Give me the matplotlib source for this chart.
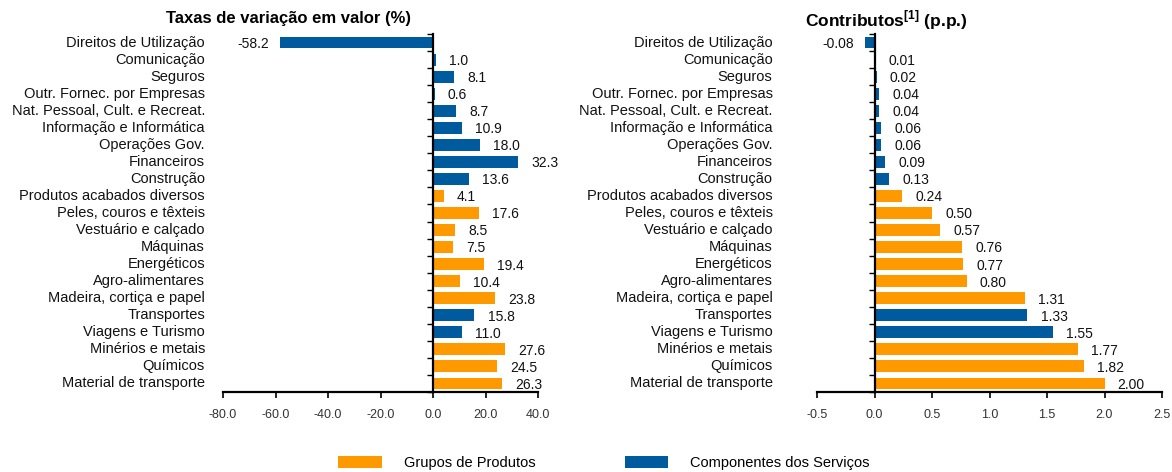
import matplotlib
matplotlib.use("Agg")
import matplotlib.pyplot as plt
import numpy as np
from matplotlib.patches import Patch
from matplotlib.ticker import FormatStrFormatter, FixedLocator, NullFormatter

plt.rcParams['font.family'] = ['Liberation Sans', 'DejaVu Sans']
plt.rcParams['mathtext.fontset'] = 'custom'
plt.rcParams['mathtext.rm'] = 'Liberation Sans'
plt.rcParams['mathtext.bf'] = 'Liberation Sans:bold'

categories = ["Direitos de Utilização", "Comunicação", "Seguros",
              "Outr. Fornec. por Empresas", "Nat. Pessoal, Cult. e Recreat.",
              "Informação e Informática", "Operações Gov.", "Financeiros",
              "Construção", "Produtos acabados diversos", "Peles, couros e têxteis",
              "Vestuário e calçado", "Máquinas", "Energéticos", "Agro-alimentares",
              "Madeira, cortiça e papel", "Transportes", "Viagens e Turismo",
              "Minérios e metais", "Químicos", "Material de transporte"]
groups = ["S", "S", "S", "S", "S", "S", "S", "S", "S", "P", "P", "P", "P", "P",
          "P", "P", "S", "S", "P", "P", "P"]
rates = [-58.2, 1.0, 8.1, 0.6, 8.7, 10.9, 18.0, 32.3, 13.6, 4.1, 17.6, 8.5, 7.5,
         19.4, 10.4, 23.8, 15.8, 11.0, 27.6, 24.5, 26.3]
contribs = [-0.08, 0.01, 0.02, 0.04, 0.04, 0.06, 0.06, 0.09, 0.13, 0.24, 0.50,
            0.57, 0.76, 0.77, 0.80, 1.31, 1.33, 1.55, 1.77, 1.82, 2.00]
legend_labels = {"P": "Grupos de Produtos", "S": "Componentes dos Serviços"}

ORANGE = "#FF9900"
BLUE = "#005A9E"
colors = [ORANGE if g == "P" else BLUE for g in groups]

W, H = 1172, 472
fig = plt.figure(figsize=(W / 100, H / 100), dpi=100)

def frac_box(x0, x1, ytop, ybot):
    return [x0 / W, 1 - ybot / H, (x1 - x0) / W, (ybot - ytop) / H]

axL = fig.add_axes(frac_box(223, 538, 34, 392))
axR = fig.add_axes(frac_box(817, 1162, 34, 392))

def draw(ax, vals, xlim, xticks, fmt, valfmt, pad):
    y = np.arange(len(categories))
    ax.barh(y, vals, height=0.7, color=colors, zorder=2)
    ax.set_xlim(*xlim)
    ax.set_ylim(len(categories) - 0.5, -0.5)
    # zero line (category axis crossing at 0) with boundary tick marks
    ax.spines["left"].set_position(("data", 0))
    ax.spines["left"].set_linewidth(1.6)
    ax.spines["left"].set_zorder(3)
    ax.yaxis.set_major_locator(FixedLocator([]))
    ax.yaxis.set_minor_locator(FixedLocator(np.arange(-0.5, len(categories), 1.0)))
    ax.yaxis.set_minor_formatter(NullFormatter())
    ax.tick_params(axis='y', which='minor', direction='out', length=4, width=1.0)
    # category labels at the low end of the value axis
    for yi, c in zip(y, categories):
        ax.annotate(c, xy=(0, yi), xycoords=("axes fraction", "data"),
                    xytext=(-pad, 0), textcoords="offset points",
                    ha='right', va='center', fontsize=10.5, color="#111111")
    ax.set_xticks(xticks)
    ax.xaxis.set_major_formatter(FormatStrFormatter(fmt))
    ax.tick_params(axis='x', direction='out', length=4, width=1.2,
                   labelsize=9, labelcolor="#333333", pad=8)
    for s in ("top", "right"):
        ax.spines[s].set_visible(False)
    ax.spines["bottom"].set_linewidth(1.6)
    for yi, v in zip(y, vals):
        if v < 0:
            ax.annotate(valfmt % v, (v, yi), xytext=(-8, -1), textcoords='offset points',
                        ha='right', va='center', fontsize=10, color="#111111")
        else:
            ax.annotate(valfmt % v, (v, yi), xytext=(9.5, -1), textcoords='offset points',
                        ha='left', va='center', fontsize=10, color="#111111")

draw(axL, rates, (-80, 40), np.arange(-80, 41, 20), "%.1f", "%.1f", 13)
draw(axR, contribs, (-0.5, 2.5), np.arange(-0.5, 2.51, 0.5), "%.1f", "%.2f", 32)

fig.text(288 / W, 1 - 18 / H, "Taxas de variação em valor (%)", ha='center', va='center',
         fontsize=12, fontweight='bold')
fig.text(886 / W, 1 - 20 / H, r"Contributos$^{\mathbf{[1]}}$ (p.p.)", ha='center', va='center',
         fontsize=12.5, fontweight='bold')

handles = [Patch(facecolor=ORANGE, label=legend_labels["P"]),
           Patch(facecolor=BLUE, label=legend_labels["S"])]
fig.legend(handles=handles, loc='center', bbox_to_anchor=(604 / W, 1 - 463 / H), ncol=2,
           frameon=False, fontsize=10.5, handlelength=3.0, handleheight=0.85,
           handletextpad=1.5, columnspacing=6.1)

fig.savefig("out.png", dpi=100)
